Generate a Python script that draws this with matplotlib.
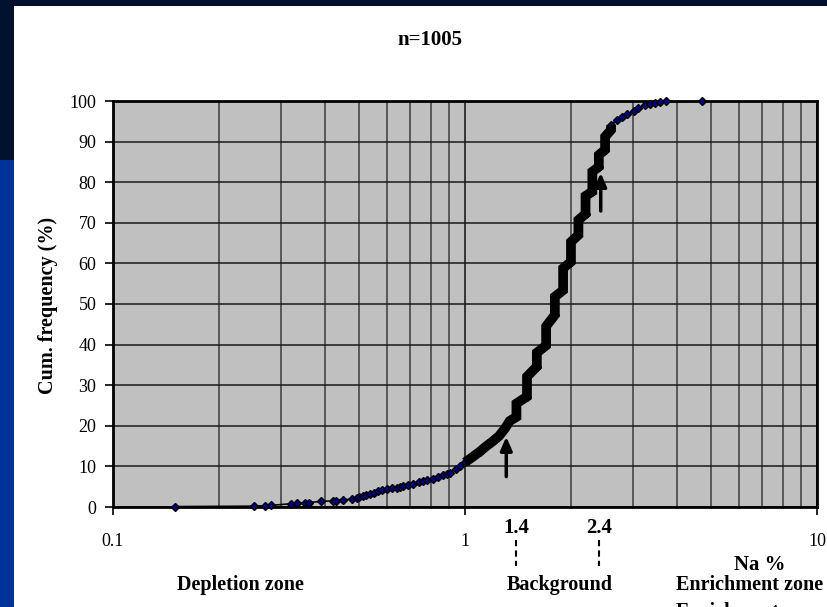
import numpy as np
import matplotlib
matplotlib.use("Agg")
import matplotlib.pyplot as plt
from matplotlib.patches import Rectangle
from matplotlib.ticker import FixedLocator, NullFormatter
import matplotlib.transforms as mtransforms

# --- data (Na %, cumulative frequency %) ---
na_values = [0.150, 0.251, 0.270, 0.281, 0.320, 0.333, 0.350, 0.361, 0.390,
             0.421, 0.430, 0.451, 0.478, 0.492, 0.500, 0.514, 0.525, 0.537,
             0.550, 0.567, 0.580, 0.599, 0.620, 0.640, 0.655, 0.668, 0.690,
             0.713, 0.740, 0.761, 0.780, 0.813, 0.840, 0.868, 0.890, 0.907,
             0.940, 0.968,
             1.00, 1.05, 1.10, 1.15, 1.20, 1.25, 1.30, 1.34,
             1.4, 1.4, 1.5, 1.5, 1.6, 1.6, 1.7, 1.7, 1.8, 1.8, 1.9, 1.9,
             2.0, 2.0, 2.1, 2.1, 2.2, 2.2, 2.3, 2.3, 2.4, 2.4, 2.5, 2.5,
             2.6, 2.6,
             2.70, 2.79, 2.88, 3.02, 3.11, 3.25, 3.35, 3.47, 3.58, 3.73, 4.70]
cum_freq = [0.1, 0.2, 0.3, 0.4, 0.8, 0.9, 1.0, 1.1, 1.4,
            1.5, 1.6, 1.8, 1.9, 2.2, 2.4, 2.7, 2.9, 3.1,
            3.5, 4.0, 4.2, 4.4, 4.6, 4.8, 5.0, 5.2, 5.4,
            5.6, 6.1, 6.5, 6.7, 6.9, 7.3, 7.9, 8.2, 8.4,
            9.4, 10.2,
            11.0, 12.3, 13.6, 15.0, 16.2, 17.5, 19.4, 21.2,
            22.2, 25.5, 27.2, 32.1, 34.6, 38.0, 39.8, 44.5, 47.3, 51.8, 53.4, 58.8,
            60.4, 65.3, 67.0, 70.7, 72.2, 76.6, 77.7, 82.6, 83.8, 86.7, 88.0, 91.2,
            92.9, 94.1,
            95.3, 96.1, 96.8, 97.6, 98.3, 99.0, 99.3, 99.6, 99.8, 99.9, 100.0]

dense_from, dense_to = 1.0, 2.6     # range where markers pile up into a thick band
thresholds = [1.4, 2.4]
arrows = [(1.31, 7.5, 17.3), (2.43, 72.9, 82.3)]   # x, tail y, tip y

x_ticks = [0.1, 1, 10]
x_ticklabels = ["0.1", "1", "10"]
y_ticks = list(range(0, 101, 10))

# --- figure ---
W, H = 827, 607
fig = plt.figure(figsize=(W / 100, H / 100), dpi=100)
fig.patch.set_facecolor("white")

# slide frame
fig.patches.append(Rectangle((0, 1 - 6 / H), 1, 6 / H, transform=fig.transFigure,
                             facecolor="#00112f", edgecolor="none", zorder=0))
fig.patches.append(Rectangle((0, 1 - 160 / H), 14 / W, 160 / H, transform=fig.transFigure,
                             facecolor="#00112f", edgecolor="none", zorder=0))
fig.patches.append(Rectangle((0, 0), 14 / W, 1 - 160 / H, transform=fig.transFigure,
                             facecolor="#003399", edgecolor="none", zorder=0))

left, right, top, bottom = 113, 817, 101, 507
ax = fig.add_axes([left / W, 1 - bottom / H, (right - left) / W, (bottom - top) / H])
ax.set_facecolor("#c0c0c0")
ax.set_xscale("log")
ax.set_xlim(0.1, 10)
ax.set_ylim(0, 100)

serif = "Liberation Serif"

ax.xaxis.set_major_locator(FixedLocator(x_ticks))
ax.set_xticklabels(x_ticklabels, fontfamily=serif, fontsize=13)
minor = [m * d for d in (0.1, 1) for m in range(2, 10)]
ax.xaxis.set_minor_locator(FixedLocator(minor))
ax.xaxis.set_minor_formatter(NullFormatter())
ax.set_yticks(y_ticks)
ax.set_yticklabels([str(v) for v in y_ticks], fontfamily=serif, fontsize=13)

ax.tick_params(axis="x", which="major", direction="out", length=6, width=1.2, pad=13)
ax.tick_params(axis="x", which="minor", length=0)
ax.tick_params(axis="y", direction="out", length=6, width=1.2, pad=6)

ax.grid(which="major", axis="x", color="#111111", lw=1.1)
ax.grid(which="minor", axis="x", color="#3c3c3c", lw=1.1)
ax.grid(which="major", axis="y", color="#1a1a1a", lw=1.1)
ax.set_axisbelow(True)
for s in ax.spines.values():
    s.set_linewidth(2)
    s.set_color("black")

na = np.array(na_values)
cf = np.array(cum_freq)
ax.plot(na, cf, color="black", lw=1.2, zorder=3)
ax.plot(na, cf, ls="none", marker="D", ms=4.5, mfc="#000080", mec="black",
        mew=1, zorder=4, clip_on=False)
dense = (na >= dense_from) & (na <= dense_to)
ax.plot(na[dense], cf[dense], color="black", lw=7, solid_joinstyle="miter",
        solid_capstyle="butt", zorder=5)

for x, y0, y1 in arrows:
    ax.annotate("", xy=(x, y1), xytext=(x, y0),
                arrowprops=dict(arrowstyle="-|>,head_length=0.8,head_width=0.35",
                                color="black", lw=2.5, shrinkA=0, shrinkB=0),
                zorder=6)

trans = mtransforms.blended_transform_factory(ax.transData, ax.transAxes)
for t in thresholds:
    ax.plot([t, t], [-0.081, -0.145], transform=trans, clip_on=False,
            color="black", lw=1.5, ls=(0, (3, 2)))
    ax.text(t, -0.052, f"{t:.1f}", transform=trans, ha="center", va="center",
            fontfamily=serif, fontweight="bold", fontsize=15)

fig.text(430 / W, 1 - 40 / H, "n=1005", ha="center", va="center",
         fontfamily=serif, fontweight="bold", fontsize=15)
fig.text(48 / W, 1 - 305 / H, "Cum. frequency (%)", rotation=90, ha="center",
         va="center", fontfamily=serif, fontweight="bold", fontsize=14.5)
fig.text(760 / W, 1 - 565 / H, "Na %", ha="center", va="center",
         fontfamily=serif, fontweight="bold", fontsize=15)

zones = [("Depletion zone", 240), ("Background", 560), ("Enrichment zone", 750)]
for label, xc in zones:
    fig.text(xc / W, 1 - 585 / H, label, ha="center", va="center",
             fontfamily=serif, fontweight="bold", fontsize=14.5)
fig.text(750 / W, 1 - 612 / H, "Enrichment zone", ha="center", va="center",
         fontfamily=serif, fontweight="bold", fontsize=14.5)

fig.savefig("out.png", dpi=100)
